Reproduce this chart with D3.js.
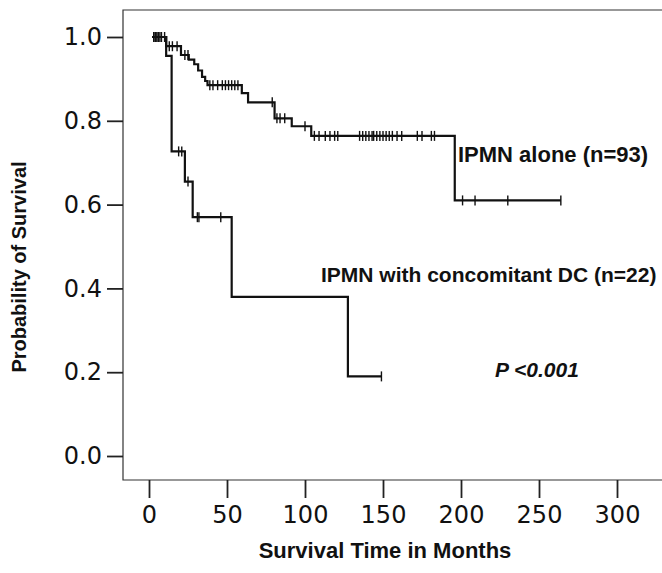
<!DOCTYPE html>
<html>
<head>
<meta charset="utf-8">
<style>
  body { margin: 0; background: #fff; }
  svg { display: block; }
</style>
</head>
<body>
<svg width="662" height="573"></svg>
<script src="https://d3js.org/d3.v7.min.js"></script>
<script>

// IPMN alone (n=93): step times and survival after each step
var aloneTimes = [2, 11, 20.5, 25.5, 29, 31.5, 34, 36, 37.5, 59.5, 63.5, 80.5, 91.5, 104, 196];
var aloneSurv  = [1.0, 0.978, 0.957, 0.946, 0.935, 0.92, 0.905, 0.895, 0.885, 0.866, 0.844, 0.806, 0.787, 0.764, 0.61];
var aloneEnd = 264;
var aloneCensor = [3, 4, 5, 6, 7, 8, 10, 13, 15, 18, 23, 25, 39, 41, 44, 47, 49, 51, 53, 55, 57,
  79, 82, 84, 87, 100, 106, 109, 113, 116, 119, 121, 135, 137, 139, 141, 143, 144, 146, 148,
  150, 152, 154, 156, 159, 162, 172, 175, 181, 183, 201, 209, 230, 264];

// IPMN with concomitant DC (n=22)
var dcTimes = [2, 11, 14.5, 23, 28, 53, 127.5];
var dcSurv  = [1.0, 0.955, 0.727, 0.655, 0.57, 0.38, 0.19];
var dcEnd = 149;
var dcCensor = [4, 6, 19, 21, 25, 31, 32, 46, 149];

var xTicks = [0, 50, 100, 150, 200, 250, 300];
var yTicks = [0, 0.2, 0.4, 0.6, 0.8, 1.0];

var svg = d3.select("svg");

var x = d3.scaleLinear().domain([0, 300]).range([149, 617]);
var y = d3.scaleLinear().domain([0, 1]).range([456, 37]);

var frame = {left: 123, top: 10, bottom: 480, right: 670};

// frame box
svg.append("path")
  .attr("d", "M" + frame.right + "," + frame.top + "H" + frame.left + "V" + frame.bottom + "H" + frame.right)
  .attr("fill", "none")
  .attr("stroke", "#333")
  .attr("stroke-width", 1.2);

// y axis
var yAxis = svg.append("g")
  .attr("transform", "translate(" + frame.left + ",0)")
  .call(d3.axisLeft(y).tickValues(yTicks).tickFormat(d3.format(".1f")).tickSize(16).tickPadding(5));
yAxis.select(".domain").remove();

// x axis
var xAxis = svg.append("g")
  .attr("transform", "translate(0," + frame.bottom + ")")
  .call(d3.axisBottom(x).tickValues(xTicks).tickSize(18).tickPadding(8));
xAxis.select(".domain").remove();

svg.selectAll(".tick line").attr("stroke", "#222").attr("stroke-width", 1.8);
svg.selectAll(".tick text")
  .attr("fill", "#111")
  .style("font-family", "'DejaVu Sans', Verdana, sans-serif")
  .style("font-size", "24px");

function survAt(times, surv, t) {
  var i = d3.bisectRight(times, t) - 1;
  return surv[Math.max(0, i)];
}

var line = d3.line()
  .x(function(d) { return x(d[0]); })
  .y(function(d) { return y(d[1]); })
  .curve(d3.curveStepAfter);

function drawCurve(times, surv, end, censor) {
  var pts = times.map(function(t, i) { return [t, surv[i]]; });
  pts.push([end, surv[surv.length - 1]]);
  svg.append("path")
    .datum(pts)
    .attr("fill", "none")
    .attr("stroke", "#111")
    .attr("stroke-width", 2.2)
    .attr("d", line);
  svg.append("g").selectAll("line")
    .data(censor)
    .join("line")
    .attr("x1", function(d) { return x(d); })
    .attr("x2", function(d) { return x(d); })
    .attr("y1", function(d) { return y(survAt(times, surv, d)) - 5; })
    .attr("y2", function(d) { return y(survAt(times, surv, d)) + 5; })
    .attr("stroke", "#111")
    .attr("stroke-width", 1.4);
}

drawCurve(aloneTimes, aloneSurv, aloneEnd, aloneCensor);
drawCurve(dcTimes, dcSurv, dcEnd, dcCensor);

var labelFont = "'Liberation Sans', Arial, sans-serif";

svg.append("text")
  .attr("x", 458).attr("y", 162)
  .style("font-family", labelFont).style("font-weight", "bold").style("font-size", "22px")
  .attr("fill", "#111")
  .text("IPMN alone (n=93)");

svg.append("text")
  .attr("x", 321).attr("y", 282)
  .style("font-family", labelFont).style("font-weight", "bold").style("font-size", "21px")
  .attr("fill", "#111")
  .text("IPMN with concomitant DC (n=22)");

svg.append("text")
  .attr("x", 495).attr("y", 377)
  .style("font-family", labelFont).style("font-weight", "bold").style("font-style", "italic").style("font-size", "21px")
  .attr("fill", "#111")
  .text("P <0.001");

svg.append("text")
  .attr("transform", "translate(26,267) rotate(-90)")
  .attr("text-anchor", "middle")
  .style("font-family", labelFont).style("font-weight", "bold").style("font-size", "20px")
  .attr("fill", "#111")
  .text("Probability of Survival");

svg.append("text")
  .attr("x", 385).attr("y", 558)
  .attr("text-anchor", "middle")
  .style("font-family", labelFont).style("font-weight", "bold").style("font-size", "22px")
  .attr("fill", "#111")
  .text("Survival Time in Months");

</script>
</body>
</html>
